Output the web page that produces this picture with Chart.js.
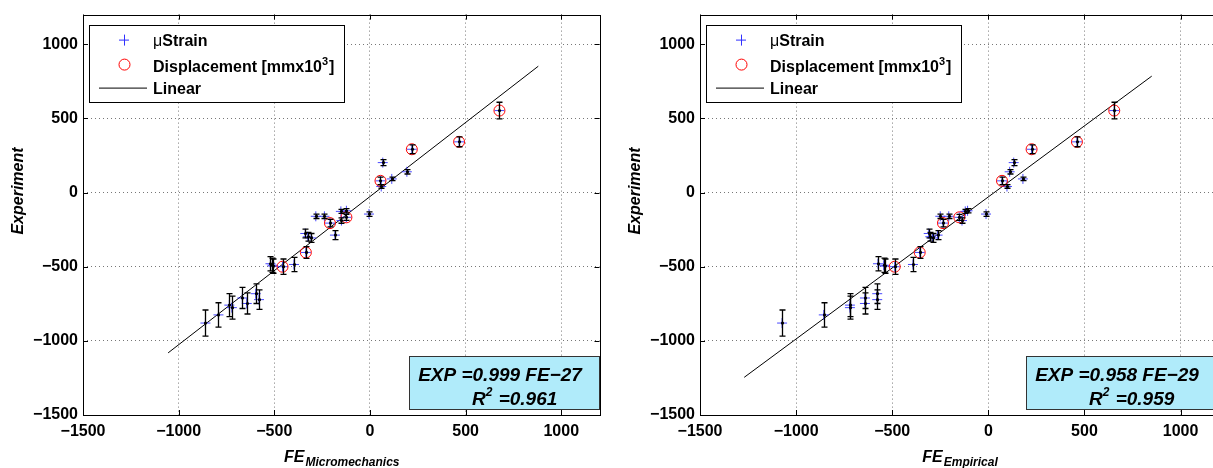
<!DOCTYPE html>
<html>
<head>
<meta charset="utf-8">
<script src="https://cdn.jsdelivr.net/npm/chart.js@4.4.1/dist/chart.umd.min.js"></script>
<style>
  html, body { margin: 0; padding: 0; background: #fff; overflow: hidden; width: 1213px; height: 468px; }
  .plot { position: absolute; top: 0; height: 468px; }
</style>
</head>
<body>
<div class="plot" style="left:0;width:606px"><canvas id="microChart" width="606" height="468"></canvas></div>
<div class="plot" style="left:617px;width:617px"><canvas id="empChart" width="617" height="468"></canvas></div>
<script>
// axis ticks
const xTicks = [-1500, -1000, -500, 0, 500, 1000];
const yTicks = [-1500, -1000, -500, 0, 500, 1000];

// microstrain points: experiment value, FE micromechanics, FE empirical, error
const strainExp   = [202, 140, 92, 41, -145, -160, -160, -127, -123, -189, -276, -287, -298, -306, -480, -490, -496, -485, -682, -722, -711, -748, -759, -776, -825, -880];
const strainMicro = [67, 193, 114, 59, -5, -283, -238, -152, -123, -149, -338, -183, -325, -307, -520, -510, -505, -397, -597, -580, -667, -644, -735, -722, -792, -860];
const strainEmp   = [132, 111, 180, 97, -12, -250, -206, -120, -108, -137, -310, -264, -302, -290, -574, -544, -536, -392, -578, -578, -642, -642, -720, -720, -856, -1073];
const strainErr   = [20, 15, 12, 12, 15, 15, 15, 14, 14, 18, 30, 30, 30, 30, 48, 48, 48, 48, 66, 66, 71, 71, 77, 77, 82, 88];

// displacement points [mm x 10^3]
const dispExp   = [553, 342, 292, 79, -167, -206, -404, -500];
const dispMicro = [677, 466, 219, 55, -123, -209, -335, -457];
const dispEmp   = [655, 461, 225, 71, -151, -236, -357, -487];
const dispErr   = [56, 33, 30, 25, 20, 25, 40, 52];

// linear fit end points
const microLineX = [-1055, 880];
const microLineY = [-1081, 852];
const empLineX = [-1270, 850];
const empLineY = [-1246, 785];

const FONT = '"Liberation Sans", Arial, sans-serif';

function pts(xs, ys) {
  return xs.map((x, i) => ({ x: x, y: ys[i] }));
}

function fmt(v) {
  return v < 0 ? '\u2212' + Math.abs(v) : '' + v;
}

const matlabLook = {
  id: 'matlabLook',
  afterDatasetsDraw(chart) {
    const ctx = chart.ctx, xs = chart.scales.x, ys = chart.scales.y;
    ctx.save();
    chart.data.datasets.forEach(ds => {
      if (!ds.errs) return;
      ds.data.forEach((p, j) => {
        const px = Math.round(xs.getPixelForValue(p.x)) + 0.5;
        const top = ys.getPixelForValue(p.y + ds.errs[j]);
        const bot = ys.getPixelForValue(p.y - ds.errs[j]);
        ctx.strokeStyle = '#000';
        ctx.lineWidth = 1.3;
        ctx.beginPath();
        ctx.moveTo(px, top); ctx.lineTo(px, bot);
        ctx.moveTo(px - 3, top); ctx.lineTo(px + 3, top);
        ctx.moveTo(px - 3, bot); ctx.lineTo(px + 3, bot);
        ctx.stroke();
        ctx.fillStyle = '#000';
        ctx.beginPath();
        ctx.arc(px, ys.getPixelForValue(p.y), 1.6, 0, Math.PI * 2);
        ctx.fill();
      });
    });
    ctx.restore();
  },
  afterDraw(chart, args, opts) {
    const ctx = chart.ctx, a = chart.chartArea;
    const xs = chart.scales.x, ys = chart.scales.y;
    ctx.save();

    // frame and inward ticks
    ctx.strokeStyle = '#000';
    ctx.lineWidth = 1;
    ctx.strokeRect(Math.round(a.left) + 0.5, Math.round(a.top) + 0.5, Math.round(a.right - a.left), Math.round(a.bottom - a.top));
    ctx.beginPath();
    xTicks.forEach(v => {
      const x = Math.round(xs.getPixelForValue(v)) + 0.5;
      ctx.moveTo(x, a.bottom); ctx.lineTo(x, a.bottom - 5);
      ctx.moveTo(x, a.top); ctx.lineTo(x, a.top + 5);
    });
    yTicks.forEach(v => {
      const y = Math.round(ys.getPixelForValue(v)) + 0.5;
      ctx.moveTo(a.left, y); ctx.lineTo(a.left + 5, y);
      ctx.moveTo(a.right, y); ctx.lineTo(a.right - 5, y);
    });
    ctx.stroke();

    // legend
    const lx = a.left + 6, ly = a.top + 10;
    ctx.fillStyle = '#fff';
    ctx.fillRect(lx, ly, 255, 77);
    ctx.strokeRect(Math.round(lx) + 0.5, Math.round(ly) + 0.5, 255, 77);
    ctx.strokeStyle = '#3030ff';
    ctx.beginPath();
    ctx.moveTo(lx + 30, ly + 15.5); ctx.lineTo(lx + 40, ly + 15.5);
    ctx.moveTo(lx + 35.5, ly + 10); ctx.lineTo(lx + 35.5, ly + 21);
    ctx.stroke();
    ctx.strokeStyle = '#ff0000';
    ctx.beginPath();
    ctx.arc(lx + 35.5, ly + 40, 5.5, 0, Math.PI * 2);
    ctx.stroke();
    ctx.strokeStyle = '#000';
    ctx.beginPath();
    ctx.moveTo(lx + 10, ly + 63.5); ctx.lineTo(lx + 58, ly + 63.5);
    ctx.stroke();
    ctx.fillStyle = '#000';
    ctx.textBaseline = 'alphabetic';
    ctx.textAlign = 'left';
    const tx = lx + 64;
    ctx.font = '16px ' + FONT;
    ctx.fillText('\u03bc', tx, ly + 21);
    const mu = ctx.measureText('\u03bc').width;
    ctx.font = 'bold 16px ' + FONT;
    ctx.fillText('Strain', tx + mu, ly + 21);
    const d1 = 'Displacement [mmx10';
    ctx.fillText(d1, tx, ly + 47);
    let w = ctx.measureText(d1).width;
    ctx.font = 'bold 11px ' + FONT;
    ctx.fillText('3', tx + w, ly + 40);
    w += ctx.measureText('3').width;
    ctx.font = 'bold 16px ' + FONT;
    ctx.fillText(']', tx + w + 1, ly + 47);
    ctx.fillText('Linear', tx, ly + 69);

    // fit annotation
    const bx = a.left + 326, by = 356;
    ctx.fillStyle = '#b0ebfa';
    ctx.fillRect(bx, by, 190, 53);
    ctx.strokeStyle = '#333';
    ctx.strokeRect(bx + 0.5, by + 0.5, 190, 53);
    ctx.fillStyle = '#000';
    ctx.font = 'italic bold 19px ' + FONT;
    ctx.textAlign = 'center';
    ctx.fillText(opts.fit, a.left + 417, 381);
    ctx.textAlign = 'left';
    let rx = a.left + 389;
    ctx.fillText('R', rx, 405);
    rx += ctx.measureText('R').width;
    ctx.font = 'italic bold 12px ' + FONT;
    ctx.fillText('2', rx, 396);
    rx += ctx.measureText('2').width + 1;
    ctx.font = 'italic bold 19px ' + FONT;
    ctx.fillText(' =' + opts.r2, rx, 405);

    // x title with subscript
    ctx.font = 'italic bold 16px ' + FONT;
    const fw = ctx.measureText('FE').width;
    ctx.font = 'italic bold 12px ' + FONT;
    const sw = ctx.measureText(opts.sub).width;
    let sx = (a.left + a.right) / 2 - (fw + sw) / 2;
    ctx.font = 'italic bold 16px ' + FONT;
    ctx.fillText('FE', sx, 462);
    ctx.font = 'italic bold 12px ' + FONT;
    ctx.fillText(opts.sub, sx + fw + 1, 466);

    // y title
    ctx.translate(23, 191);
    ctx.rotate(-Math.PI / 2);
    ctx.textAlign = 'center';
    ctx.font = 'italic bold 16px ' + FONT;
    ctx.fillText('Experiment', 0, 0);
    ctx.restore();
  }
};

function makeConfig(strainX, dispX, lineX, lineY, sub, fit, r2) {
  return {
    type: 'scatter',
    data: {
      datasets: [
        {
          label: '\u03bcStrain',
          data: pts(strainX, strainExp),
          errs: strainErr,
          pointStyle: 'cross',
          pointRadius: 5,
          borderColor: 'rgba(40,40,255,0.85)',
          borderWidth: 1,
          order: 2
        },
        {
          label: 'Displacement cross',
          data: pts(dispX, dispExp),
          errs: dispErr,
          pointStyle: 'cross',
          pointRadius: 5,
          borderColor: 'rgba(40,40,255,0.85)',
          borderWidth: 1,
          order: 1
        },
        {
          label: 'Displacement [mmx10\u00b3]',
          data: pts(dispX, dispExp),
          pointStyle: 'circle',
          pointRadius: 5.5,
          backgroundColor: 'rgba(0,0,0,0)',
          borderColor: '#ff0000',
          borderWidth: 1,
          order: 0
        },
        {
          type: 'line',
          label: 'Linear',
          data: pts(lineX, lineY),
          borderColor: '#000',
          borderWidth: 1,
          pointRadius: 0,
          fill: false,
          order: 3
        }
      ]
    },
    options: {
      responsive: false,
      animation: false,
      events: [],
      layout: { padding: { left: 0, top: 7, right: 4, bottom: 0 } },
      scales: {
        x: {
          type: 'linear',
          min: -1500,
          max: 1200,
          afterBuildTicks: s => { s.ticks = xTicks.map(v => ({ value: v })); },
          afterFit: s => { s.height = 53; },
          grid: { color: '#777', drawTicks: false },
          border: { display: false, dash: [1, 3] },
          ticks: { color: '#000', padding: 7, maxRotation: 0, font: { family: FONT, size: 16, weight: 'bold' }, callback: fmt }
        },
        y: {
          type: 'linear',
          min: -1500,
          max: 1200,
          afterBuildTicks: s => { s.ticks = yTicks.map(v => ({ value: v })); },
          afterFit: s => { s.width = 83; },
          grid: { color: '#777', drawTicks: false },
          border: { display: false, dash: [1, 3] },
          ticks: { color: '#000', padding: 5, font: { family: FONT, size: 16, weight: 'bold' }, callback: fmt }
        }
      },
      plugins: {
        legend: { display: false },
        tooltip: { enabled: false },
        matlabLook: { sub: sub, fit: fit, r2: r2 }
      }
    },
    plugins: [matlabLook]
  };
}

const microCfg = makeConfig(strainMicro, dispMicro, microLineX, microLineY, 'Micromechanics', 'EXP =0.999 FE\u221227', '0.961');
const empCfg = makeConfig(strainEmp, dispEmp, empLineX, empLineY, 'Empirical', 'EXP =0.958 FE\u221229', '0.959');
empCfg.options.layout.padding.right = 15;

new Chart(document.getElementById('microChart').getContext('2d'), microCfg);
new Chart(document.getElementById('empChart').getContext('2d'), empCfg);
</script>
</body>
</html>
